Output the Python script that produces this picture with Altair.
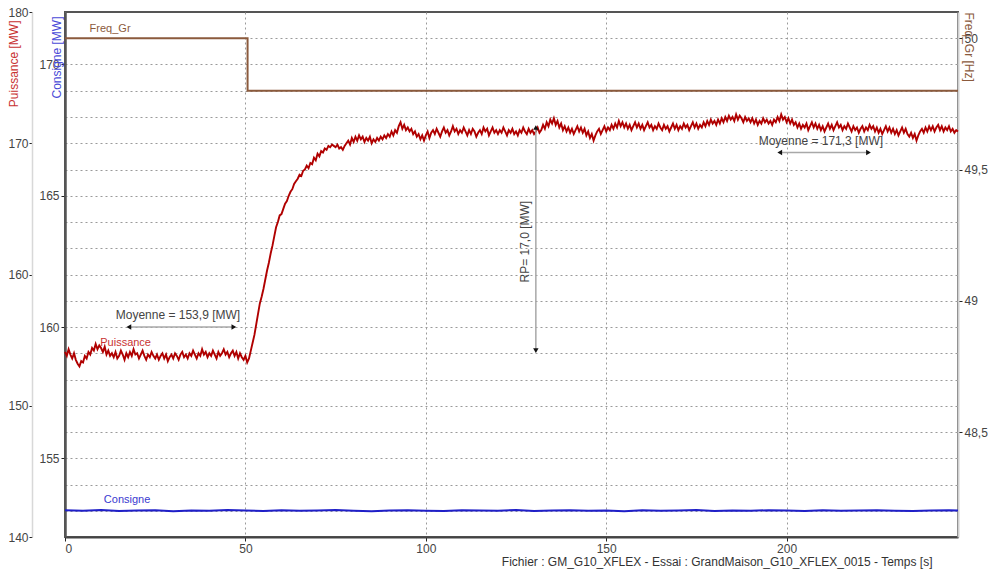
import altair as alt
import pandas as pd

FONT = "Liberation Sans"

# ---------------- data ----------------
STEP_P = 0.5  # sampling step of Puissance [s]
puissance = [
    # 0 - 50.5 s
    154.1, 153.8, 154.3, 153.9, 153.6, 154.0, 153.5, 153.2, 153.0, 153.4,
    153.3, 153.8, 153.6, 154.1, 153.9, 154.4, 154.2, 154.7, 154.3, 154.6,
    154.4, 154.1, 154.5, 153.9, 154.2, 153.8, 154.0, 153.7, 154.1, 153.6,
    153.8, 154.2, 153.9, 153.5, 154.0, 153.7, 154.1, 153.8, 154.3, 153.9,
    154.0, 153.6, 153.9, 154.2, 153.8, 153.5, 153.9, 153.7, 154.1, 153.8,
    153.6, 153.9, 153.5, 153.8, 154.0, 153.6, 153.9, 153.4, 153.7, 153.9,
    153.6, 154.0, 153.8, 153.5, 153.9, 154.1, 153.7, 153.9, 153.6, 154.0,
    153.8, 154.2, 153.9, 153.6, 154.0, 153.8, 154.3, 153.9, 154.1, 153.7,
    154.0, 153.8, 154.2, 153.9, 153.6, 154.1, 153.8, 154.0, 154.3, 153.9,
    154.1, 153.7, 154.0, 154.2, 153.8, 154.1, 153.6, 154.0, 153.7, 153.5,
    153.8, 153.3,
    # 51 - 99.5 s
    153.6, 154.2, 154.8, 155.4, 156.2, 157.0, 157.8, 158.3, 158.9, 159.6,
    160.3, 160.9, 161.6, 162.2, 162.9, 163.6, 164.0, 164.5, 164.6, 165.0,
    165.4, 165.6, 166.0, 166.3, 166.5, 166.9, 167.1, 167.3, 167.6, 167.5,
    167.9, 168.0, 168.3, 168.1, 168.5, 168.4, 168.9, 168.7, 169.2, 169.0,
    169.4, 169.3, 169.6, 169.5, 169.8, 169.7, 169.9, 169.8, 169.7, 169.9,
    169.6, 169.7, 169.5, 169.8, 170.0, 170.2, 169.9, 170.4, 170.1, 170.5,
    170.2, 170.6, 170.3, 170.5, 170.1, 170.4, 170.2, 170.5, 170.0, 170.3,
    170.1, 170.4, 170.2, 170.5, 170.3, 170.6, 170.4, 170.7, 170.5, 170.9,
    170.6, 171.0, 170.8, 171.3, 171.6, 171.1, 171.4, 171.0, 171.2, 170.9,
    171.1, 170.7, 170.9, 170.5, 170.7, 170.3, 170.6, 170.2,
    # 100 - 247.5 s
    170.6, 170.9, 170.4, 170.8, 171.0, 170.7, 171.1, 170.8, 170.5, 170.9,
    171.2, 170.8, 171.0, 170.6, 170.9, 171.3, 170.9, 171.1, 170.7, 171.0,
    170.8, 171.2, 170.9, 170.6, 171.0, 170.7, 171.1, 170.9, 170.5, 170.8,
    171.0, 170.7, 171.2, 170.9, 171.1, 170.6, 170.9, 171.2, 170.8, 171.0,
    170.7, 171.0, 170.8, 171.2, 170.9, 170.6, 171.0, 170.8, 171.1, 170.7,
    170.9, 170.6, 171.0, 170.8, 171.2, 170.9, 170.7, 171.1, 170.8, 171.0,
    170.7, 170.9, 171.2, 170.8, 171.0, 171.4, 171.1, 171.6, 171.3, 171.8,
    171.5, 171.9, 171.4, 171.7, 171.2, 171.5, 171.0, 171.3, 170.9, 171.2,
    170.8, 171.1, 170.7, 171.0, 171.3, 170.9, 171.2, 170.8, 171.1, 170.6,
    170.9, 170.4, 170.7, 170.2, 170.6, 170.9, 171.1, 170.7, 171.0, 171.3,
    170.9, 171.2, 171.0, 171.4, 171.1, 171.5, 171.2, 171.7, 171.3, 171.6,
    171.2, 171.5, 171.1, 171.4, 171.0, 171.3, 171.6, 171.2, 171.5, 171.1,
    171.4, 171.0, 171.3, 171.6, 171.2, 171.4, 171.0, 171.3, 171.1, 171.5,
    171.2, 171.0, 171.4, 171.1, 171.3, 170.9, 171.2, 171.5, 171.1, 171.4,
    171.0, 171.3, 171.1, 171.5, 171.2, 171.4, 171.0, 171.3, 171.6, 171.2,
    171.5, 171.1, 171.4, 171.2, 171.6, 171.3, 171.7, 171.4, 171.8, 171.5,
    171.7, 171.4, 171.8, 171.5, 171.9, 171.6, 172.0, 171.7, 172.1, 171.8,
    172.0, 171.7, 172.2, 171.8, 172.1, 171.9, 171.6, 172.0, 171.7, 171.9,
    171.6, 171.9, 171.5, 171.8, 171.4, 171.7, 171.5, 171.9, 171.6, 171.8,
    171.5, 171.7, 171.4, 171.8, 171.6, 172.0, 171.7, 172.2, 171.8, 172.0,
    171.6, 171.9, 171.5, 171.8, 171.4, 171.6, 171.2, 171.5, 171.1, 171.4,
    171.2, 171.5, 171.0, 171.3, 171.6, 171.2, 171.5, 171.1, 171.4, 171.0,
    171.3, 170.9, 171.2, 171.5, 171.1, 171.4, 171.0, 171.3, 171.6, 171.2,
    171.4, 171.0, 171.3, 171.1, 171.5, 171.2, 170.9, 171.3, 171.0, 171.2,
    170.8, 171.1, 171.3, 170.9, 171.2, 171.0, 171.4, 171.1, 171.3, 170.9,
    171.2, 170.8, 171.1, 170.7, 171.0, 171.3, 170.9, 171.2, 170.8, 171.1,
    170.7, 171.0, 170.6, 170.9, 171.2, 170.8, 171.1, 170.7, 170.5, 170.8,
    170.4, 170.7, 170.2, 170.6, 170.9, 171.1, 170.8, 171.2, 170.9, 171.3,
    171.0, 171.3, 170.9, 171.2, 171.4, 171.0, 171.3, 170.9, 171.2, 171.0,
    171.3, 170.9, 171.1, 170.8, 171.0, 170.9,
]
t_puissance = [i * STEP_P for i in range(len(puissance))]

consigne_t = [0, 5, 10, 15, 20, 25, 30, 35, 40, 45, 50, 55, 60, 65, 70, 75, 80, 85,
              90, 95, 100, 105, 110, 115, 120, 125, 130, 135, 140, 145, 150, 155,
              160, 165, 170, 175, 180, 185, 190, 195, 200, 205, 210, 215, 220, 225,
              230, 235, 240, 245, 247.5]
consigne = [153.02, 153.00, 153.03, 152.99, 153.01, 153.02, 152.98, 153.01, 153.00,
            153.03, 153.01, 152.99, 153.02, 153.00, 153.01, 153.03, 153.00, 152.98,
            153.01, 153.02, 153.00, 152.99, 153.02, 153.01, 153.00, 153.03, 152.99,
            153.01, 153.02, 153.00, 153.01, 152.98, 153.02, 153.00, 153.01, 153.03,
            152.99, 153.01, 153.00, 153.02, 153.01, 152.99, 153.02, 153.00, 153.01,
            153.02, 153.00, 152.99, 153.01, 153.02, 153.01]

freq_t = [0, 50.6, 50.6, 247.5]
freq = [50.0, 50.0, 49.8, 49.8]

# annotations (data coordinates)
moy_text = ["Moyenne = 153,9 [MW]", "Moyenne = 171,3 [MW]"]
moy_text_t = [31.3, 209.5]
moy_text_p = [156.9, 170.2]
moy_arrow_t1 = [17.7, 198.1]
moy_arrow_t2 = [46.8, 222.7]
moy_arrow_p = [156.0, 169.3]
rp_text = "RP= 17,0 [MW]"
rp_text_t, rp_text_p = 127.4, 162.5
rp_arrow_t = 130.5
rp_arrow_p1, rp_arrow_p2 = 154.2, 171.2

# ---------------- styles ----------------
RED = "#b00000"
BLUE = "#1f1fc8"
BROWN = "#8b5a3c"
GRIDC = "#9a9a9a"
TXT = "#444444"

X_SCALE = alt.Scale(domain=[0, 247.5], nice=False, zero=False)
X_AXIS = alt.Axis(
    values=[0, 50, 100, 150, 200], grid=True, gridDash=[2, 3], gridColor=GRIDC,
    gridWidth=1, domainColor="#444", domainWidth=2, tickColor="#222", tickSize=4,
    labelColor=TXT, labelFontSize=12, labelPadding=2,
    title="Fichier : GM_G10_XFLEX - Essai : GrandMaison_G10_XFLEX_0015 - Temps [s]",
    titleFontSize=12, titleFontWeight="normal", titleColor="#333",
    titleX=867, titleY=24, titleAlign="right", titleBaseline="middle",
)


def X(field):
    return alt.X(field, type="quantitative", scale=X_SCALE, axis=X_AXIS)


P_SCALE = alt.Scale(domain=[140, 180], nice=False, zero=False)
P_AXIS = alt.Axis(
    orient="left", offset=33, values=[140, 150, 160, 170, 180], grid=False,
    domainColor="#d8d8d8", domainWidth=1.5, tickColor="#222", tickSize=3,
    labelColor=TXT, labelFontSize=12, labelPadding=1,
    title="Puissance [MW]", titleColor="#c83232", titleFontSize=12,
    titleFontWeight="normal", titleAngle=270, titleX=-19, titleY=8,
    titleAlign="right", titleBaseline="middle",
)


def YP(field):
    return alt.Y(field, type="quantitative", scale=P_SCALE, axis=P_AXIS)


C_SCALE = alt.Scale(domain=[152, 172], nice=False, zero=False)
C_AXIS = alt.Axis(
    orient="left", offset=0, values=list(range(153, 172)),
    labelExpr="datum.value % 5 === 0 ? datum.label : ''",
    tickOpacity={"condition": {"test": "datum.value % 5 === 0", "value": 1}, "value": 0},
    grid=True, gridDash=[2, 3], gridColor=GRIDC, gridWidth=1,
    domainColor="#555", domainWidth=2.5, tickColor="#222", tickSize=4,
    labelColor=TXT, labelFontSize=12, labelPadding=2,
    title="Consigne [MW]", titleColor="#4a4ad8", titleFontSize=12,
    titleFontWeight="normal", titleAngle=270, titleX=-9, titleY=4,
    titleAlign="right", titleBaseline="middle",
)


def YC(field):
    return alt.Y(field, type="quantitative", scale=C_SCALE, axis=C_AXIS)


F_SCALE = alt.Scale(domain=[48.1, 50.1], nice=False, zero=False)
F_AXIS = alt.Axis(
    orient="right", values=[48.5, 49, 49.5, 50], grid=False,
    labelExpr="replace(toString(datum.value), '.', ',')",
    domainColor="#d0d0d0", domainWidth=2, tickColor="#222", tickSize=4,
    labelColor=TXT, labelFontSize=12, labelPadding=2,
    title="Freq_Gr [Hz]", titleColor=BROWN, titleFontSize=12,
    titleFontWeight="normal", titleAngle=90, titleX=10, titleY=0,
    titleAlign="left", titleBaseline="middle",
)


def YF(field):
    return alt.Y(field, type="quantitative", scale=F_SCALE, axis=F_AXIS)


# ---------------- tables ----------------
df_p = pd.DataFrame({"t": t_puissance, "P": puissance})
df_c = pd.DataFrame({"t": consigne_t, "C": consigne})
df_f = pd.DataFrame({"t": freq_t, "F": freq, "i": list(range(len(freq)))})
df_moy = pd.DataFrame({"txt": moy_text, "t": moy_text_t, "P": moy_text_p})
df_arr = pd.DataFrame({"t1": moy_arrow_t1, "t2": moy_arrow_t2, "P": moy_arrow_p})
df_head_l = pd.DataFrame({"t": moy_arrow_t1, "P": moy_arrow_p})
df_head_r = pd.DataFrame({"t": moy_arrow_t2, "P": moy_arrow_p})
df_rp_txt = pd.DataFrame({"txt": [rp_text], "t": [rp_text_t], "P": [rp_text_p]})
df_rp = pd.DataFrame({"t": [rp_arrow_t], "P1": [rp_arrow_p1], "P2": [rp_arrow_p2]})
df_rp_up = pd.DataFrame({"t": [rp_arrow_t], "P": [rp_arrow_p2]})
df_rp_dn = pd.DataFrame({"t": [rp_arrow_t], "P": [rp_arrow_p1]})
df_lab_p = pd.DataFrame({"txt": ["Puissance"], "t": [16.8], "P": [154.75]})
df_lab_c = pd.DataFrame({"txt": ["Consigne"], "t": [17.2], "C": [153.42]})
df_lab_f = pd.DataFrame({"txt": ["Freq_Gr"], "t": [12.5], "F": [50.034]})

# ---------------- layers ----------------
p_line = alt.Chart(df_p).mark_line(color=RED, strokeWidth=1.9).encode(x=X("t"), y=YP("P"))
p_lab = alt.Chart(df_lab_p).mark_text(color="#c83232", fontSize=11, font=FONT).encode(
    x=X("t"), y=YP("P"), text="txt:N")
moy_txt = alt.Chart(df_moy).mark_text(color=TXT, fontSize=12, font=FONT).encode(
    x=X("t"), y=YP("P"), text="txt:N")
moy_rule = alt.Chart(df_arr).mark_rule(color="#a8a8a8", strokeWidth=1.5).encode(
    x=X("t1"), x2="t2", y=YP("P"))
head_l = alt.Chart(df_head_l).mark_point(shape="triangle-left", filled=True, size=30,
                                         color="#111", opacity=1).encode(x=X("t"), y=YP("P"))
head_r = alt.Chart(df_head_r).mark_point(shape="triangle-right", filled=True, size=30,
                                         color="#111", opacity=1).encode(x=X("t"), y=YP("P"))
rp_rule = alt.Chart(df_rp).mark_rule(color="#a8a8a8", strokeWidth=1.5).encode(
    x=X("t"), y=YP("P1"), y2="P2")
rp_up = alt.Chart(df_rp_up).mark_point(shape="triangle-up", filled=True, size=30,
                                       color="#111", opacity=1).encode(x=X("t"), y=YP("P"))
rp_dn = alt.Chart(df_rp_dn).mark_point(shape="triangle-down", filled=True, size=30,
                                       color="#111", opacity=1).encode(x=X("t"), y=YP("P"))
rp_txt = alt.Chart(df_rp_txt).mark_text(color=TXT, fontSize=12, font=FONT, angle=270).encode(
    x=X("t"), y=YP("P"), text="txt:N")

p_layer = alt.layer(p_line, moy_rule, rp_rule, head_l, head_r, rp_up, rp_dn,
                    p_lab, moy_txt, rp_txt)

c_line = alt.Chart(df_c).mark_line(color=BLUE, strokeWidth=2).encode(x=X("t"), y=YC("C"))
c_lab = alt.Chart(df_lab_c).mark_text(color="#3a3ad0", fontSize=11, font=FONT).encode(
    x=X("t"), y=YC("C"), text="txt:N")
c_layer = alt.layer(c_line, c_lab)

f_line = alt.Chart(df_f).mark_line(color=BROWN, strokeWidth=2).encode(
    x=X("t"), y=YF("F"), order=alt.Order("i:Q"))
f_lab = alt.Chart(df_lab_f).mark_text(color=BROWN, fontSize=11, font=FONT).encode(
    x=X("t"), y=YF("F"), text="txt:N")
f_layer = alt.layer(f_line, f_lab)

chart = (
    alt.layer(c_layer, p_layer, f_layer)
    .resolve_scale(y="independent")
    .properties(
        width=893, height=525,
        padding={"left": 57, "top": 4, "right": 34, "bottom": 33},
        autosize=alt.AutoSizeParams(type="none"),
        background="white",
    )
    .configure(font=FONT)
    .configure_view(stroke="#555", strokeWidth=2)
)

chart.save("out.html", embed_options={"renderer": "svg", "actions": False})
